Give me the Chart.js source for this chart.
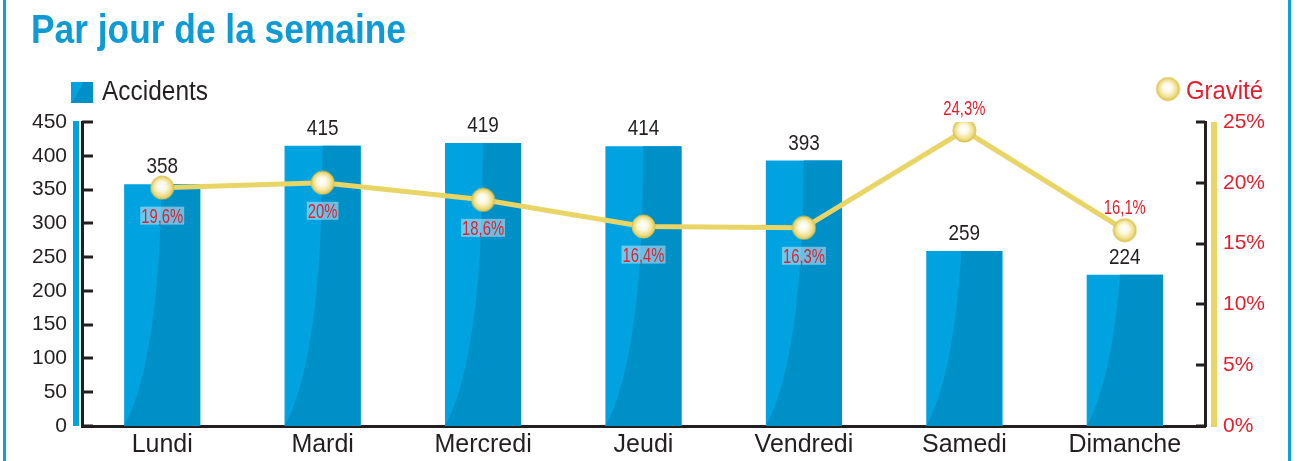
<!DOCTYPE html>
<html>
<head>
<meta charset="utf-8">
<script src="https://cdn.jsdelivr.net/npm/chart.js@4/dist/chart.umd.min.js"></script>
<style>
html,body{margin:0;padding:0;background:#fff;overflow:hidden}
#wrap{position:relative;width:1297px;height:461px}
canvas{display:block}
</style>
</head>
<body>
<div id="wrap"><canvas id="c" width="1297" height="461"></canvas></div>
<script>
const titleText = 'Par jour de la semaine';
const categories = ['Lundi', 'Mardi', 'Mercredi', 'Jeudi', 'Vendredi', 'Samedi', 'Dimanche'];
const accidents = [358, 415, 419, 414, 393, 259, 224];
const gravite = [19.6, 20, 18.6, 16.4, 16.3, 24.3, 16.1];
const graviteLabelAbove = [false, false, false, false, false, true, true];
const leftAxis = { min: 0, max: 450, step: 50 };
const rightAxis = { min: 0, max: 25, step: 5 };
const seriesNames = ['Accidents', 'Gravité'];

const FONT = '"Liberation Sans Narrow", "Arial Narrow", "Liberation Sans", sans-serif';
const DARK = '#231f20';
const RED = '#e31e2d';
const BLUE = '#00a3e0';
const BLUE_DARK = '#0090c8';
const YELLOW = '#e8d566';
const FRAME = '#0aa0dc';

function fmtPct(v) { return String(v).replace('.', ',') + '%'; }

function makeBall(r) {
  const s = Math.ceil(r * 2 + 2);
  const cv = document.createElement('canvas');
  cv.width = s; cv.height = s;
  const g = cv.getContext('2d');
  const c = s / 2;
  const grd = g.createRadialGradient(c - 1, c - 2, 1, c, c, r);
  grd.addColorStop(0, '#ffffff');
  grd.addColorStop(0.35, '#fdf9e2');
  grd.addColorStop(0.75, '#f0e08e');
  grd.addColorStop(1, '#dcc552');
  g.beginPath(); g.arc(c, c, r, 0, Math.PI * 2);
  g.fillStyle = grd; g.fill();
  g.lineWidth = 1; g.strokeStyle = '#d8c24f'; g.stroke();
  return cv;
}
const ball = makeBall(11.5);

function fitText(ctx, text, x, y, font, width, align) {
  ctx.save();
  ctx.font = font;
  const w = ctx.measureText(text).width;
  const sx = width ? width / w : 1;
  let x0 = x;
  if (align === 'center') x0 = x - (w * sx) / 2;
  else if (align === 'right') x0 = x - w * sx;
  ctx.translate(x0, y);
  ctx.scale(sx, 1);
  ctx.textAlign = 'left';
  ctx.fillText(text, 0, 0);
  ctx.restore();
}
function textWidth(ctx, text, font) { ctx.save(); ctx.font = font; const w = ctx.measureText(text).width; ctx.restore(); return w; }

const decor = {
  id: 'decor',
  beforeDraw(chart) {
    const ctx = chart.ctx;
    ctx.save();
    ctx.fillStyle = '#fff';
    ctx.fillRect(0, 0, chart.width, chart.height);
    ctx.fillStyle = FRAME;
    ctx.fillRect(3, 0, 3, chart.height);
    ctx.fillRect(1288, 0, 3, chart.height);
    ctx.fillStyle = '#0e9bd5';
    ctx.textBaseline = 'alphabetic';
    fitText(ctx, titleText, 31, 43, 'bold 41px ' + FONT, 375, 'left');
    const sq = { x: 71, y: 82, w: 22, h: 21 };
    ctx.fillStyle = BLUE_DARK;
    ctx.fillRect(sq.x, sq.y, sq.w, sq.h);
    ctx.beginPath();
    ctx.moveTo(sq.x, sq.y); ctx.lineTo(sq.x + sq.w * 0.55, sq.y);
    ctx.quadraticCurveTo(sq.x + sq.w * 0.3, sq.y + sq.h * 0.6, sq.x, sq.y + sq.h);
    ctx.closePath(); ctx.fillStyle = BLUE; ctx.fill();
    ctx.fillStyle = DARK;
    fitText(ctx, seriesNames[0], 102, 100, '27px ' + FONT, 106, 'left');
    ctx.drawImage(ball, 1168 - ball.width / 2, 89 - ball.height / 2);
    ctx.fillStyle = RED;
    fitText(ctx, seriesNames[1], 1186, 99, '25px ' + FONT, 77, 'left');
    ctx.restore();
  },
  afterDraw(chart) {
    const ctx = chart.ctx;
    const y = chart.scales.y, y1 = chart.scales.y1;
    const top = chart.chartArea.top, bottom = chart.chartArea.bottom;
    ctx.save();
    ctx.fillStyle = BLUE;
    ctx.fillRect(73, top - 1, 6, bottom - top + 1);
    ctx.fillStyle = YELLOW;
    ctx.fillRect(1211, top, 6, bottom - top + 1);
    ctx.fillStyle = DARK;
    y.ticks.forEach(t => {
      const py = Math.round(y.getPixelForValue(t.value));
      ctx.fillRect(chart.chartArea.left, py - 1.5, 11, 3);
    });
    y1.ticks.forEach(t => {
      const py = Math.round(y1.getPixelForValue(t.value));
      ctx.fillRect(chart.chartArea.right - 9, py - 1.5, 9, 3);
    });
    ctx.restore();
  },
  afterDatasetsDraw(chart) {
    const ctx = chart.ctx;
    const barMeta = chart.getDatasetMeta(0);
    const lineMeta = chart.getDatasetMeta(1);
    ctx.save();
    ctx.fillStyle = DARK;
    ctx.textBaseline = 'alphabetic';
    barMeta.data.forEach((el, i) => {
      const f = '22px ' + FONT, t = String(accidents[i]);
      fitText(ctx, t, el.x, el.y - 11, f, textWidth(ctx, t, f) * 0.86, 'center');
    });
    lineMeta.data.forEach((el, i) => {
      const txt = fmtPct(gravite[i]);
      const f = '20px ' + FONT;
      const w = textWidth(ctx, txt, f) * 0.74;
      if (graviteLabelAbove[i]) {
        ctx.fillStyle = RED;
        fitText(ctx, txt, el.x, el.y - 16, f, w, 'center');
      } else {
        ctx.fillStyle = 'rgba(255,255,255,0.42)';
        ctx.fillRect(el.x - w / 2 - 1, el.y + 19, w + 2, 18);
        ctx.fillStyle = RED;
        fitText(ctx, txt, el.x, el.y + 35, f, w, 'center');
      }
    });
    ctx.restore();
  }
};

const barShade = {
  id: 'barShade',
  afterDatasetDraw(chart, args) {
    if (args.index !== 0) return;
    const ctx = chart.ctx;
    args.meta.data.forEach(el => {
      const left = el.x - el.width / 2, right = el.x + el.width / 2;
      const top = el.y, base = el.base;
      ctx.save();
      ctx.beginPath(); ctx.rect(left, top, right - left, base - top); ctx.clip();
      ctx.beginPath();
      ctx.moveTo(el.x, top - 5);
      ctx.lineTo(el.x - 1, base - 230);
      ctx.bezierCurveTo(el.x - 3, base - 120, el.x - 16, base - 40, left, base);
      ctx.lineTo(right, base);
      ctx.lineTo(right, top - 5);
      ctx.closePath();
      ctx.fillStyle = BLUE_DARK;
      ctx.fill();
      ctx.restore();
    });
  }
};

new Chart(document.getElementById('c'), {
  data: {
    labels: categories,
    datasets: [
      {
        type: 'bar', label: seriesNames[0], data: accidents, yAxisID: 'y',
        backgroundColor: BLUE, borderWidth: 0, barPercentage: 0.475, categoryPercentage: 1, order: 1
      },
      {
        type: 'line', label: seriesNames[1], data: gravite, yAxisID: 'y1',
        borderColor: YELLOW, borderWidth: 5, pointStyle: ball, pointRadius: 12,
        pointHoverRadius: 12, tension: 0, order: 0
      }
    ]
  },
  options: {
    responsive: false,
    devicePixelRatio: 1,
    animation: false,
    events: [],
    layout: { padding: { top: 122, left: 0, right: 0, bottom: 0 } },
    plugins: { legend: { display: false }, tooltip: { enabled: false }, title: { display: false } },
    scales: {
      x: {
        grid: { display: false, drawTicks: false },
        border: { display: true, color: DARK, width: 3 },
        ticks: { color: DARK, font: { family: FONT, size: 25 }, padding: 4, maxRotation: 0, autoSkip: false },
        afterFit(s) { s.height = 35; }
      },
      y: {
        position: 'left', min: leftAxis.min, max: leftAxis.max,
        grid: { display: false, drawTicks: false },
        border: { display: true, color: DARK, width: 3 },
        ticks: { stepSize: leftAxis.step, color: DARK, font: { family: FONT, size: 21 }, padding: 15 },
        afterFit(s) { s.width = 82; }
      },
      y1: {
        position: 'right', min: rightAxis.min, max: rightAxis.max,
        grid: { display: false, drawTicks: false },
        border: { display: true, color: DARK, width: 3 },
        ticks: { stepSize: rightAxis.step, color: RED, font: { family: FONT, size: 21 }, padding: 18, callback: v => v + '%' },
        afterFit(s) { s.width = 92; }
      }
    }
  },
  plugins: [decor, barShade]
});
</script>
</body>
</html>
